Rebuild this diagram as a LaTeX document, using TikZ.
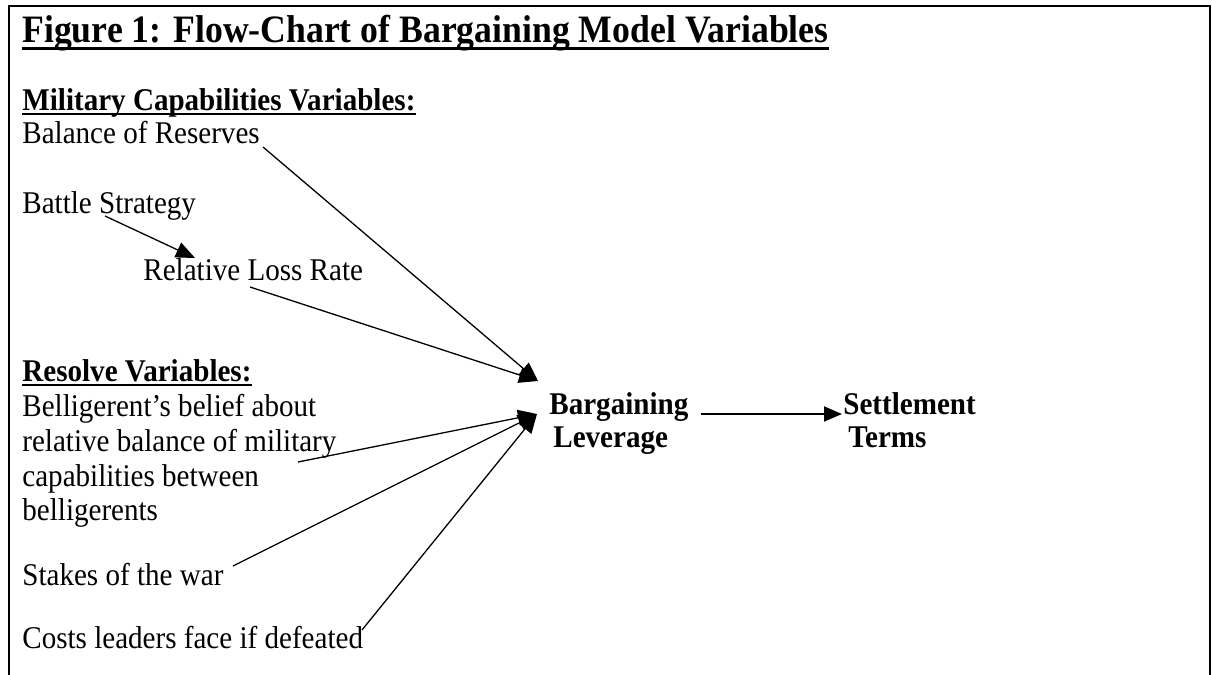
\documentclass[tikz,border=0pt]{standalone}
\usepackage{fontspec}
\setmainfont[FakeStretch=0.92]{Liberation Serif}
\usetikzlibrary{arrows.meta,calc}
\begin{document}
\begin{tikzpicture}[x=0.5pt,y=-0.5pt,
  txt/.style={anchor=base west,inner sep=0pt,font=\fontsize{15.8}{17}\selectfont},
  btxt/.style={anchor=base west,inner sep=0pt,font=\fontsize{15.8}{17}\selectfont\bfseries},
  ttl/.style={anchor=base west,inner sep=0pt,font=\fontsize{19.4}{22}\selectfont\bfseries},
  conn/.style={line width=0.65pt,-{Triangle[length=9.5pt,width=8pt]}},
  bigconn/.style={line width=1pt,-{Triangle[length=9pt,width=7.5pt]}},
  frame/.style={line width=1.15pt}]
\useasboundingbox (0,0) rectangle (1212,675);
\draw[frame] (9,675) -- (9,6) -- (1210,6) -- (1210,675);
% texts
\node[ttl] (title) at (22,42) {Figure 1: Flow-Chart of Bargaining Model Variables};
\draw[line width=1.7pt] ($(title.base west)+(0,6.5)$) -- ($(title.base east)+(0,6.5)$);
\node[btxt] (milhead) at (22,110) {Military Capabilities Variables:};
\draw[line width=1pt] ($(milhead.base west)+(0,4)$) -- ($(milhead.base east)+(0,4)$);
\node[txt] (reserves) at (22,143) {Balance of Reserves};
\node[txt] (battle) at (22,213) {Battle Strategy};
\node[txt] (loss) at (143,280) {Relative Loss Rate};
\node[btxt] (reshead) at (22,381) {Resolve Variables:};
\draw[line width=1pt] ($(reshead.base west)+(0,4)$) -- ($(reshead.base east)+(0,4)$);
\node[txt] (bel1) at (22,416) {Belligerent’s belief about};
\node[txt] (bel2) at (22,451) {relative balance of military};
\node[txt] (bel3) at (22,486) {capabilities between};
\node[txt] (bel4) at (22,520) {belligerents};
\node[txt] (stakes) at (22,585) {Stakes of the war};
\node[txt] (costs) at (22,648) {Costs leaders face if defeated};
\node[btxt] (barg1) at (549,414) {Bargaining};
\node[btxt] (barg2) at (553,447) {Leverage};
\node[btxt] (settle1) at (843,414) {Settlement};
\node[btxt] (settle2) at (848,447) {Terms};
% connector ends
\coordinate (sRes) at (263,147);
\coordinate (sBat) at (105,216);
\coordinate (tLoss) at (195,258);
\coordinate (sLoss) at (250,287);
\coordinate (sBel) at (298,462);
\coordinate (sSta) at (233,566);
\coordinate (sCos) at (362,630);
\coordinate (tipA) at (538,381);
\coordinate (tipB) at (537,414);
% connectors
\draw[conn] (sRes) -- (tipA);
\draw[conn] (sBat) -- (tLoss);
\draw[conn] (sLoss) -- (tipA);
\draw[conn] (sBel) -- (tipB);
\draw[conn] (sSta) -- (tipB);
\draw[conn] (sCos) -- (tipB);
\draw[bigconn] ($(barg1.base east)+(12,0)$) -- ($(settle1.base west)+(-1,0)$);
\end{tikzpicture}
\end{document}
